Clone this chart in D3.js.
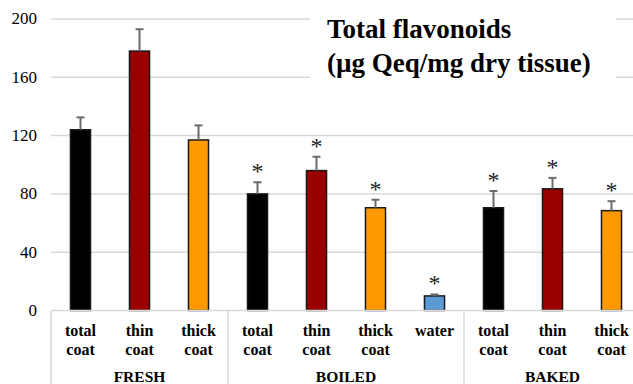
<!DOCTYPE html>
<html>
<head>
<meta charset="utf-8">
<script src="https://cdn.jsdelivr.net/npm/d3@7"></script>
</head>
<body style="margin:0">
<div id="chart"></div>
<script>
// Total flavonoid content by coat type and preparation
const groups = ["FRESH", "BOILED", "BAKED"];
const groupOf = ["FRESH", "FRESH", "FRESH", "BOILED", "BOILED", "BOILED", "BOILED", "BAKED", "BAKED", "BAKED"];
const labelLines = [
  ["total", "coat"], ["thin", "coat"], ["thick", "coat"],
  ["total", "coat"], ["thin", "coat"], ["thick", "coat"], ["water"],
  ["total", "coat"], ["thin", "coat"], ["thick", "coat"]
];
const kinds = ["total", "thin", "thick", "total", "thin", "thick", "water", "total", "thin", "thick"];
const values = [124, 178, 117, 80, 96, 70.5, 10, 70.5, 83.5, 68.5];
const errors = [8.5, 15, 10, 8, 9.5, 5.5, 1, 11.5, 7.5, 6.5];
const significant = [false, false, false, true, true, true, true, true, true, true];
const yTicks = [0, 40, 80, 120, 160, 200];
const titleLines = ["Total flavonoids", "(\u00b5g Qeq/mg dry tissue)"];

const fillFor = { total: "#000000", thin: "#990000", thick: "#FF9900", water: "#5B9BD5" };
const face = ["Liberation Serif", "Tinos", "Times New Roman", "serif"];
const faceCss = face.map(f => f === "serif" ? f : `"${f}"`).join(", ");

const W = 633, H = 384;
const margin = { left: 51, top: 19, bottom: 73 };
const plotRight = 641;

const svg = d3.select("#chart").append("svg")
  .attr("width", W).attr("height", H)
  .attr("font-family", face.join(", "));

// Apply the serif face to a text selection
const serifText = sel => sel.style("font-family", faceCss);

const idx = d3.range(values.length);
const x = d3.scaleBand().domain(idx).range([margin.left, plotRight]).padding(0);
const y = d3.scaleLinear().domain([0, 200]).range([H - margin.bottom - 0.5, margin.top]);
const barW = x.bandwidth() * 0.34;

// Gridlines
svg.append("g").selectAll("line").data(yTicks.filter(t => t > 0)).join("line")
  .attr("x1", margin.left).attr("x2", plotRight)
  .attr("y1", d => y(d)).attr("y2", d => y(d))
  .attr("stroke", "#d9d9d9").attr("stroke-width", 1.5);

// Y value labels
svg.append("g").selectAll("text").data(yTicks).join("text")
  .attr("x", margin.left - 14).attr("y", d => y(d)).attr("dy", "0.32em")
  .attr("text-anchor", "end").attr("font-size", 17).attr("fill", "#000")
  .call(serifText)
  .text(d => d);

// Title box
const title = svg.append("g");
title.append("rect").attr("x", 310).attr("y", 8).attr("width", 306).attr("height", 82).attr("fill", "#fff");
title.selectAll("text").data(titleLines).join("text")
  .attr("x", 327).attr("y", (d, i) => 38 + i * 34)
  .attr("font-size", 27).attr("font-weight", "bold").attr("fill", "#000")
  .call(serifText)
  .text(d => d);

// Bars
svg.append("g").selectAll("rect").data(idx).join("rect")
  .attr("x", i => x(i) + (x.bandwidth() - barW) / 2)
  .attr("y", i => y(values[i]))
  .attr("width", barW)
  .attr("height", i => y(0) - y(values[i]))
  .attr("fill", i => fillFor[kinds[i]])
  .attr("stroke", "#1a1a1a").attr("stroke-width", 1.5);

// Upper error bars
const eb = svg.append("g").attr("stroke", "#6b6b6b").attr("stroke-width", 2);
idx.forEach(i => {
  const cx = x(i) + x.bandwidth() / 2;
  eb.append("line").attr("x1", cx).attr("x2", cx)
    .attr("y1", y(values[i])).attr("y2", y(values[i] + errors[i]));
  eb.append("line").attr("x1", cx - 4).attr("x2", cx + 4)
    .attr("y1", y(values[i] + errors[i])).attr("y2", y(values[i] + errors[i]));
});

// Significance marks
svg.append("g").selectAll("text").data(idx.filter(i => significant[i])).join("text")
  .attr("x", i => x(i) + x.bandwidth() / 2)
  .attr("y", i => y(values[i] + errors[i]) - 3)
  .attr("text-anchor", "middle").attr("font-size", 24).attr("fill", "#222")
  .call(serifText)
  .text("*");

// Category axis: baseline and group dividers
const axisY = y(0);
svg.append("line").attr("x1", margin.left).attr("x2", plotRight)
  .attr("y1", axisY).attr("y2", axisY).attr("stroke", "#d9d9d9").attr("stroke-width", 1.5);
const groupStarts = groups.map(g => groupOf.indexOf(g));
const dividers = groupStarts.map(s => x(s)).concat([plotRight]);
svg.append("g").selectAll("line").data(dividers).join("line")
  .attr("x1", d => d).attr("x2", d => d)
  .attr("y1", axisY).attr("y2", H)
  .attr("stroke", "#d9d9d9").attr("stroke-width", 1.5);

// Category labels
const cat = svg.append("g").attr("font-size", 16).attr("font-weight", "bold").attr("text-anchor", "middle");
idx.forEach(i => {
  const t = cat.append("text").attr("x", x(i) + x.bandwidth() / 2).attr("y", axisY + 25)
    .call(serifText);
  labelLines[i].forEach((ln, k) => {
    t.append("tspan").attr("x", x(i) + x.bandwidth() / 2).attr("dy", k === 0 ? 0 : 19).text(ln);
  });
});

// Group labels
svg.append("g").selectAll("text").data(groups).join("text")
  .attr("x", g => {
    const members = idx.filter(i => groupOf[i] === g);
    return (x(members[0]) + x(members[members.length - 1]) + x.bandwidth()) / 2;
  })
  .attr("y", axisY + 71)
  .attr("text-anchor", "middle").attr("font-size", 15.5).attr("font-weight", "bold")
  .call(serifText)
  .text(g => g);
</script>
</body>
</html>
